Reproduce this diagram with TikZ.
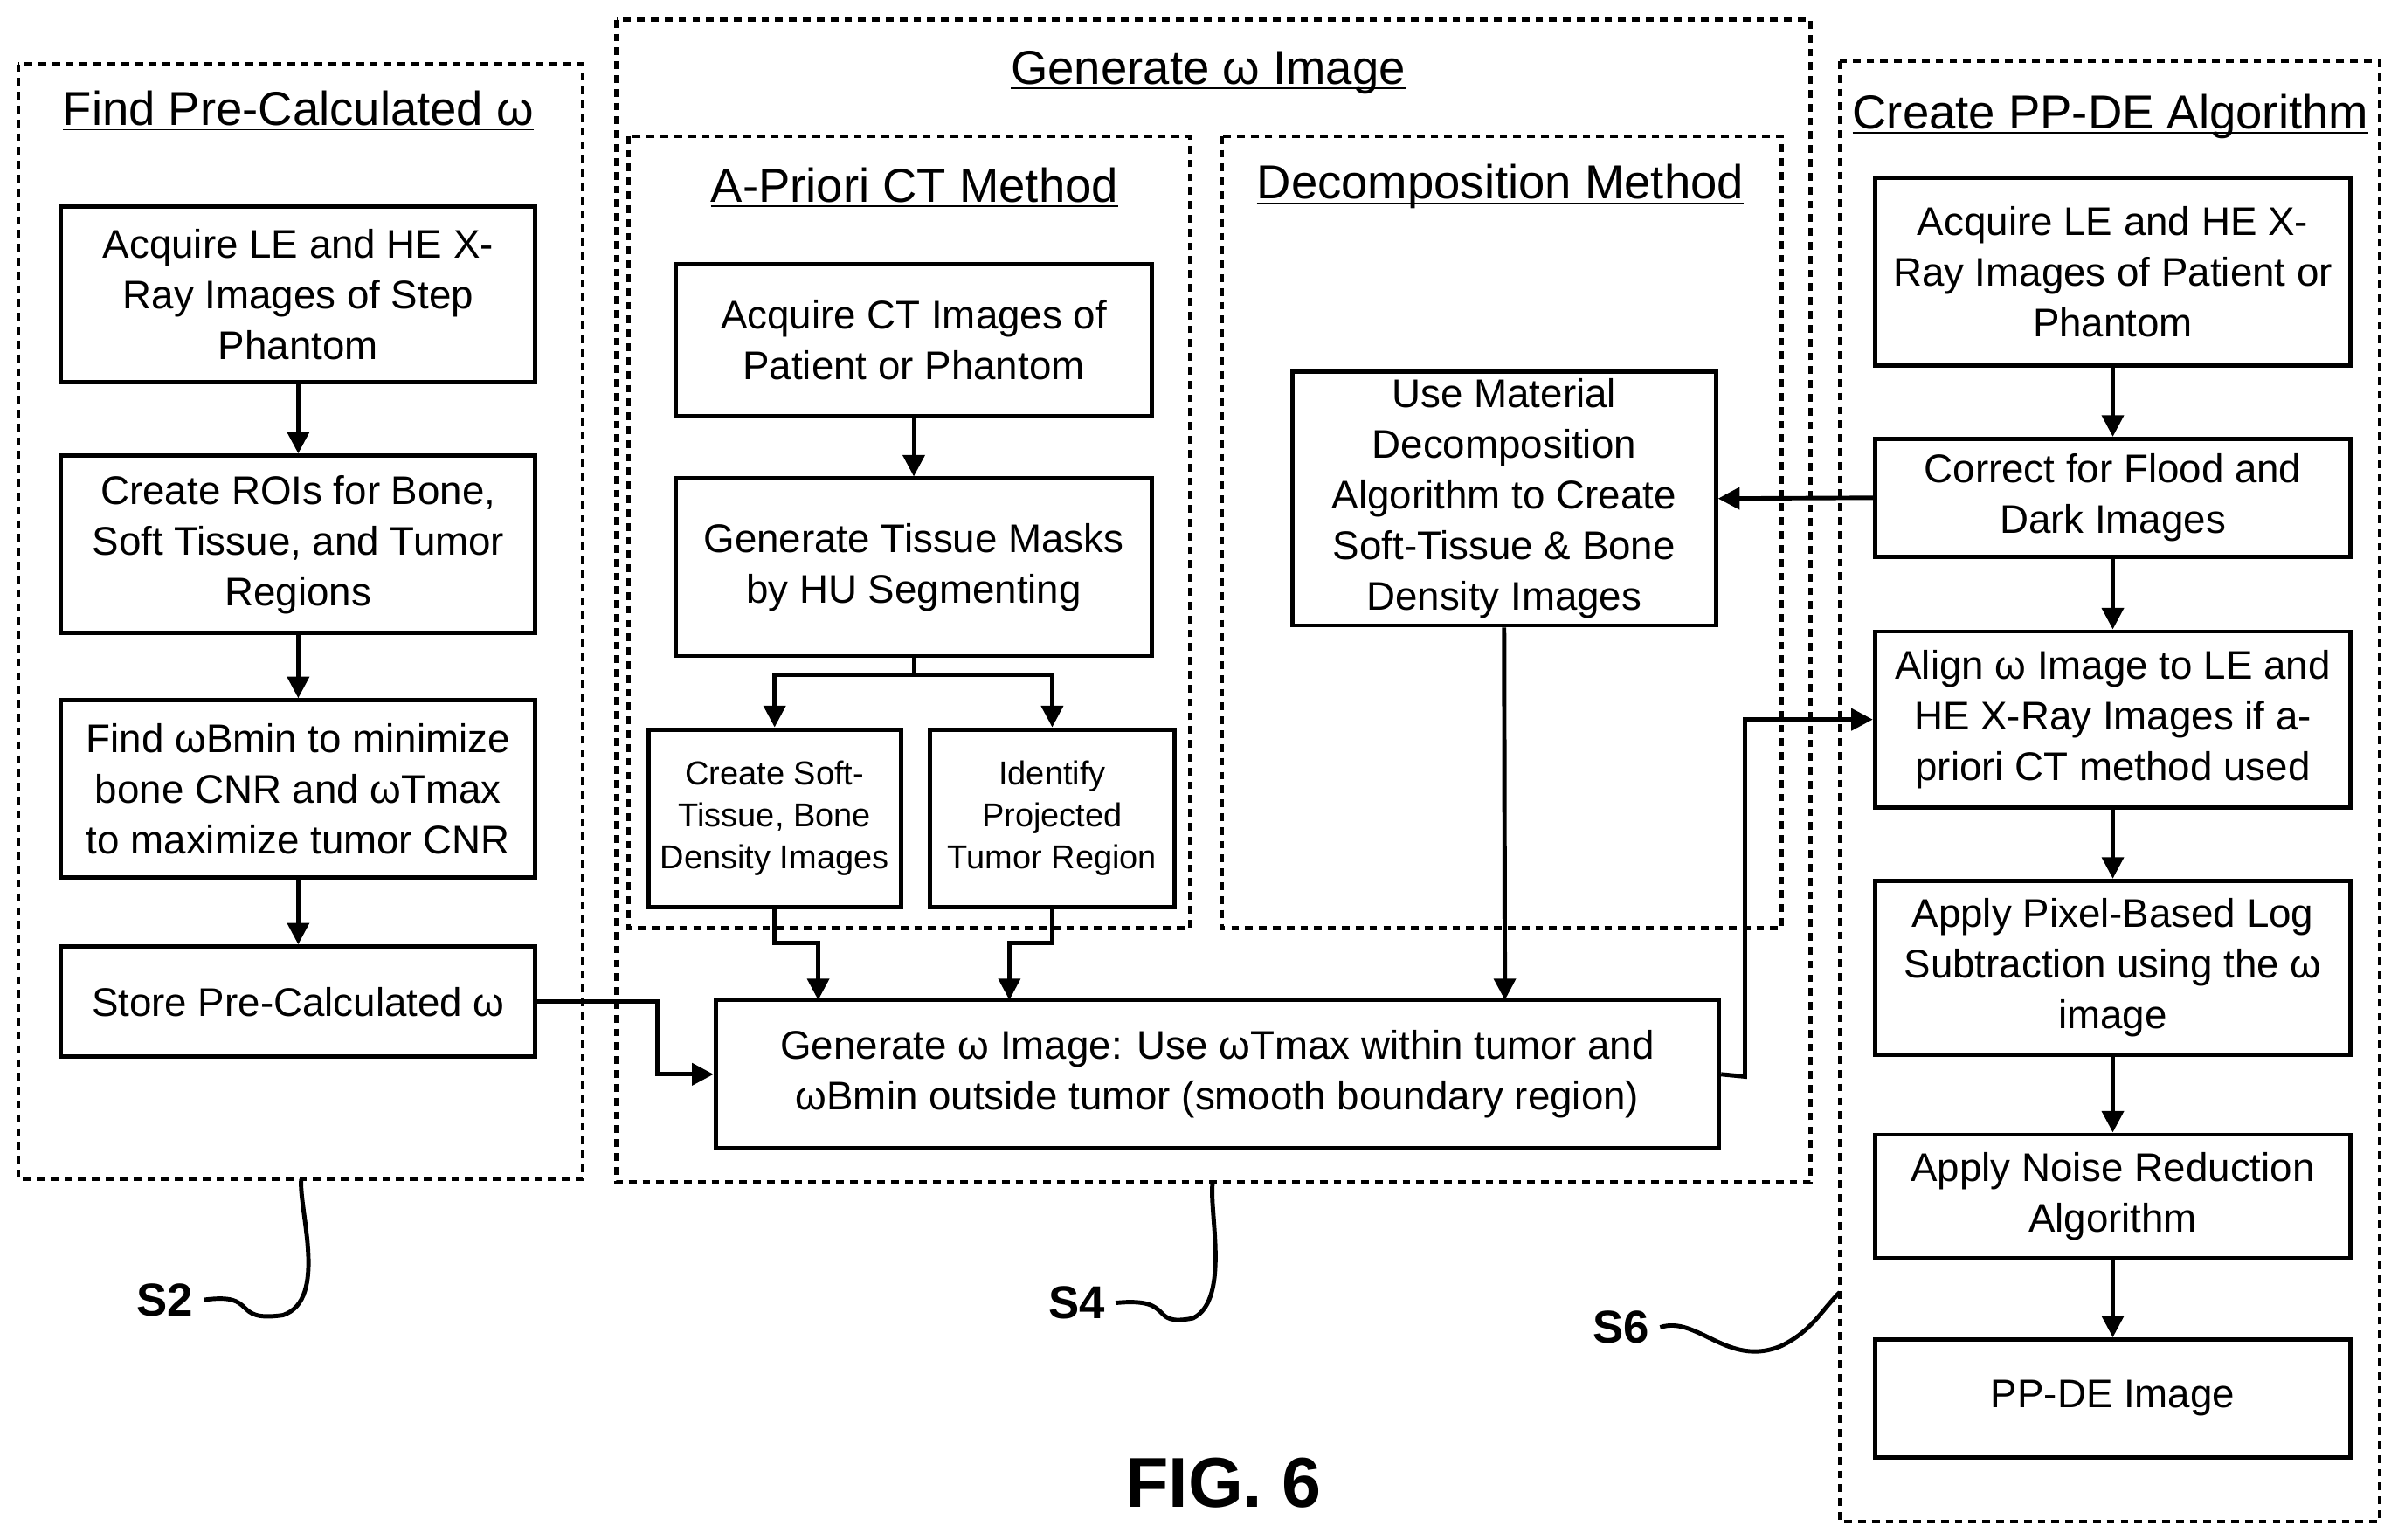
\documentclass[tikz,border=0pt]{standalone}
\usepackage{fontspec}
\setmainfont{Liberation Sans}
\usetikzlibrary{arrows.meta,positioning}
\tikzset{>={Triangle[length=7pt,width=7pt]}}
\tikzset{
    blk/.style={draw,line width=1.4pt,align=center,inner sep=0pt,font=\fontsize{13}{16.5}\selectfont},
    sblk/.style={blk,font=\fontsize{10.8}{13.6}\selectfont},
    frame/.style={draw,line width=1.3pt,dash pattern=on 2.5pt off 2pt},
    ttl/.style={font=\fontsize{15.5}{18}\selectfont},
    lbl/.style={font=\bfseries\fontsize{15}{18}\selectfont},
    flow/.style={->,line width=1.4pt}
}
\newcommand{\bx}[6]{\node[#1,minimum width=(#4-#2)*0.0175cm,minimum height=(#5-#3)*0.0175cm] (#6) at ({(#2+#4)/2},{(#3+#5)/2})}
\newcommand{\ttlline}[1]{\underline{\smash{#1}}}
\begin{document}
\begin{tikzpicture}[x=0.0175cm,y=-0.0175cm]
    \useasboundingbox (0,0) rectangle (1568,1007);
    % frames
    \draw[frame] (12,42) rectangle (381,771);
    \draw[frame] (403,13) rectangle (1184,773);
    \draw[frame] (411,89) rectangle (778,607);
    \draw[frame] (799,89) rectangle (1165,607);
    \draw[frame] (1203,40) rectangle (1556,995);
    \node[ttl] at (195,84) {\ttlline{Find Pre-Calculated ω}};
    \node[ttl] at (790,57) {\ttlline{Generate ω Image}};
    \node[ttl] at (598,134) {\ttlline{A-Priori CT Method}};
    \node[ttl] at (981,132) {\ttlline{Decomposition Method}};
    \node[ttl] at (1380,86) {\ttlline{Create PP-DE Algorithm}};
    % left column
    \bx{blk}{40}{135}{350}{250}{acqs} {Acquire LE and HE X-\\Ray Images of Step\\Phantom};
    \bx{blk}{40}{298}{350}{414}{rois} {Create ROIs for Bone,\\Soft Tissue, and Tumor\\Regions};
    \bx{blk}{40}{458}{350}{574}{findw} {Find ωBmin to minimize\\bone CNR and ωTmax\\to maximize tumor CNR};
    \bx{blk}{40}{619}{350}{691}{store} {Store Pre-Calculated ω};
    % a-priori
    \bx{blk}{442}{173}{753}{272}{acqct} {Acquire CT Images of\\Patient or Phantom};
    \bx{blk}{442}{313}{753}{429}{masks} {Generate Tissue Masks\\by HU Segmenting};
    \bx{sblk}{424}{477}{589}{593}{soft} {Create Soft-\\Tissue, Bone\\Density Images};
    \bx{sblk}{608}{477}{768}{593}{tumor} {Identify\\Projected\\Tumor Region};
    % decomposition
    \bx{blk}{845}{243}{1122}{409}{decomp} {Use Material\\Decomposition\\Algorithm to Create\\Soft-Tissue \& Bone\\Density Images};
    \bx{blk}{468}{654}{1124}{751}{genw} {Generate ω Image: Use ωTmax within tumor and\\ωBmin outside tumor (smooth boundary region)};
    % right column
    \bx{blk}{1226}{116}{1537}{239}{acqp} {Acquire LE and HE X-\\Ray Images of Patient or\\Phantom};
    \bx{blk}{1226}{287}{1537}{364}{corr} {Correct for Flood and\\Dark Images};
    \bx{blk}{1226}{413}{1537}{528}{align} {Align ω Image to LE and\\HE X-Ray Images if a-\\priori CT method used};
    \bx{blk}{1226}{576}{1537}{690}{logsub} {Apply Pixel-Based Log\\Subtraction using the ω\\image};
    \bx{blk}{1226}{742}{1537}{823}{noise} {Apply Noise Reduction\\Algorithm};
    \bx{blk}{1226}{876}{1537}{953}{ppde} {PP-DE Image};
    % connectors
    \foreach \a/\b in {acqs/rois,rois/findw,findw/store,acqct/masks,acqp/corr,corr/align,align/logsub,logsub/noise,noise/ppde}
        \draw[flow] (\a) -- (\b);
    \draw[flow] (masks.south) -- ++(0,11) -| (soft.north);
    \draw[flow] (masks.south) -- ++(0,11) -| (tumor.north);
    \draw[flow] (soft.south) -- ++(0,22) -| (535,654);
    \draw[flow] (tumor.south) -- ++(0,22) -| (660,654);
    \draw[flow] (decomp.south) -- (984,654);
    \draw[flow] (store.east) -- (430,655) |- (genw.west);
    \draw[flow] (genw.east) -- (1141,704) |- (align.west);
    \draw[flow] (corr.west) -- (decomp.east);
    % step labels
    \node[lbl] (s2) at (108,850) {S2};
    \node[lbl] (s4) at (704,852) {S4};
    \node[lbl] (s6) at (1060,868) {S6};
    \draw[line width=1.4pt] (s2.east) .. controls (170,845) and (150,865) .. (185,860) .. controls (215,850) and (195,790) .. (197,771);
    \draw[line width=1.4pt] (s4.east) .. controls (770,848) and (750,868) .. (780,862) .. controls (805,850) and (790,790) .. (793,773);
    \draw[line width=1.4pt] (s6.east) .. controls (1110,860) and (1130,895) .. (1165,880) .. controls (1185,870) and (1190,858) .. (1203,845);
    \node[font=\bfseries\fontsize{23}{26}\selectfont] (fig) at (800,970) {FIG. 6};
\end{tikzpicture}
\end{document}
